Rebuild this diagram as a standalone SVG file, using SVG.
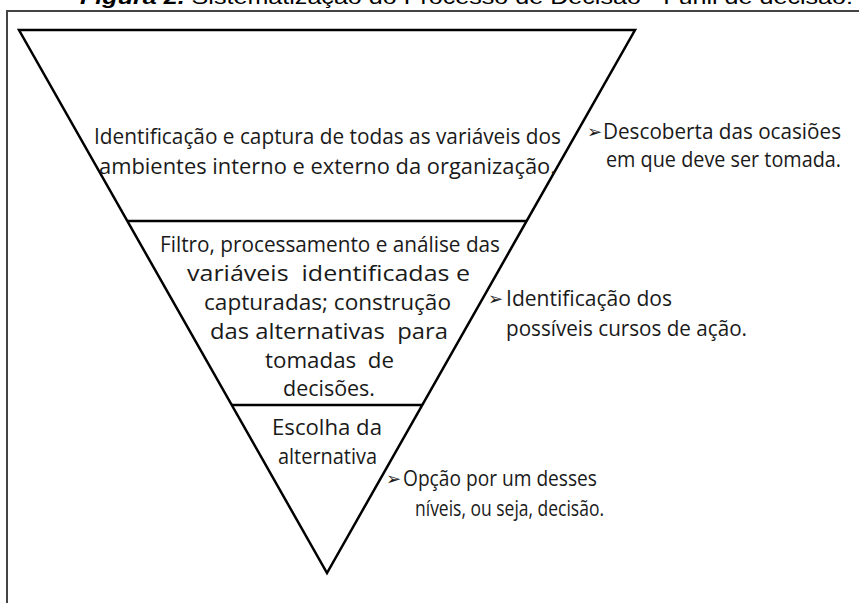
<svg xmlns="http://www.w3.org/2000/svg" width="859" height="603" viewBox="0 0 859 603">
<style>
.t{font-family:"Open Sans","Noto Sans","DejaVu Sans",sans-serif;font-size:22px;fill:#1a1a1a}
.a{font-family:"DejaVu Sans","Noto Sans",sans-serif;font-size:18px;fill:#1a1a1a}
.ttl{font-family:"Liberation Sans",Arial,sans-serif;font-size:20px;fill:#000}
.ln{stroke:#000;stroke-width:2.5;fill:none;stroke-linejoin:miter}
</style>
<rect width="859" height="603" fill="#fff"/>
<text class="ttl" x="80" y="4" textLength="773" lengthAdjust="spacingAndGlyphs"><tspan font-weight="bold" font-style="italic">Figura 2.</tspan> Sistematização do Processo de Decisão - Funil de decisão.</text>
<rect id="frame" x="7" y="11" width="900" height="700" fill="none" stroke="#444" stroke-width="2"/>
<g id="funnel">
<polygon class="ln" points="19,30 635,30 327,573"/>
<line class="ln" x1="127" y1="221" x2="527" y2="221" stroke-width="2"/>
<line class="ln" x1="232" y1="405" x2="422" y2="405" stroke-width="2"/>
</g>
<g id="level1">
<text class="t" x="94" y="144" textLength="467" lengthAdjust="spacingAndGlyphs">Identificação e captura de todas as variáveis dos</text>
<text class="t" x="99" y="174" textLength="457" lengthAdjust="spacingAndGlyphs">ambientes interno e externo da organização.</text>
</g>
<g id="level2">
<text class="t" x="160" y="252" textLength="340" lengthAdjust="spacingAndGlyphs">Filtro, processamento e análise das</text>
<text class="t" x="187" y="281" textLength="283" lengthAdjust="spacingAndGlyphs" xml:space="preserve">variáveis  identificadas e</text>
<text class="t" x="204" y="310" textLength="247" lengthAdjust="spacingAndGlyphs">capturadas; construção</text>
<text class="t" x="210" y="339" textLength="238" lengthAdjust="spacingAndGlyphs" xml:space="preserve">das alternativas  para</text>
<text class="t" x="265" y="368" textLength="129" lengthAdjust="spacingAndGlyphs" xml:space="preserve">tomadas  de</text>
<text class="t" x="283" y="396" textLength="92" lengthAdjust="spacingAndGlyphs">decisões.</text>
</g>
<g id="level3">
<text class="t" x="272" y="435" textLength="110" lengthAdjust="spacingAndGlyphs">Escolha da</text>
<text class="t" x="278" y="464" textLength="99" lengthAdjust="spacingAndGlyphs">alternativa</text>
</g>
<g id="note1">
<text class="a" x="587" y="138">➢</text>
<text class="t" x="603" y="139" textLength="238" lengthAdjust="spacingAndGlyphs">Descoberta das ocasiões</text>
<text class="t" x="606" y="167" textLength="235" lengthAdjust="spacingAndGlyphs">em que deve ser tomada.</text>
</g>
<g id="note2">
<text class="a" x="488" y="305">➢</text>
<text class="t" x="506" y="306" textLength="166" lengthAdjust="spacingAndGlyphs">Identificação dos</text>
<text class="t" x="506" y="336" textLength="241" lengthAdjust="spacingAndGlyphs">possíveis cursos de ação.</text>
</g>
<g id="note3">
<text class="a" x="386" y="485">➢</text>
<text class="t" x="403" y="486" textLength="194" lengthAdjust="spacingAndGlyphs">Opção por um desses</text>
<text class="t" x="415" y="516" textLength="189" lengthAdjust="spacingAndGlyphs">níveis, ou seja, decisão.</text>
</g>
</svg>
